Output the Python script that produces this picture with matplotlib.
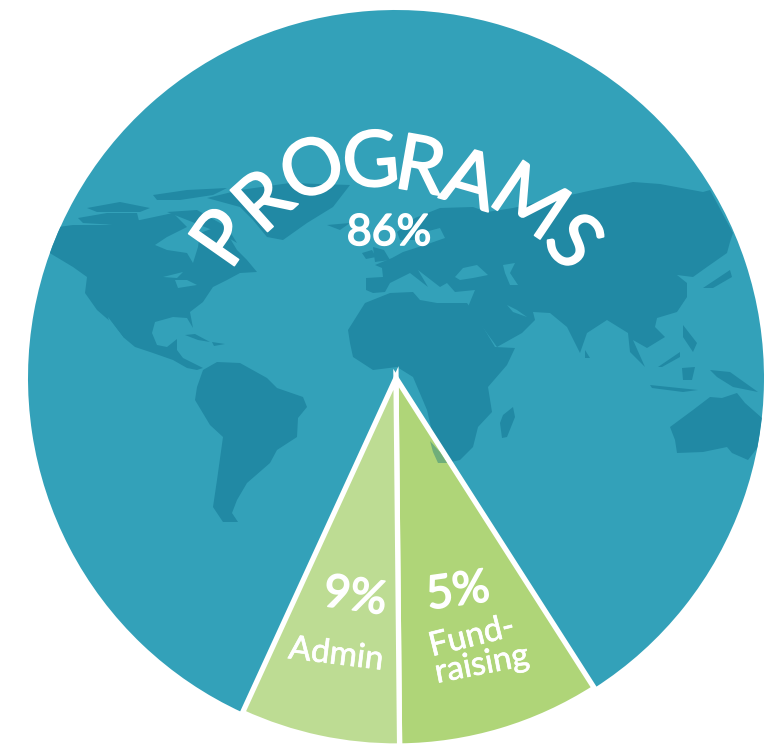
import matplotlib
matplotlib.use("Agg")
import matplotlib.pyplot as plt
import matplotlib.patheffects as pe
from matplotlib.patches import Polygon

plt.rcParams['font.family'] = ['Lato', 'DejaVu Sans']

# shares as drawn (slices are not the size their labels say)
slice_names = ["Fundraising", "Admin", "Programs"]
slice_shares = [8.9, 7.0, 84.1]
slice_colors = ["#afd578", "#bddc93", "#33a1b9"]

title_letters = list("PROGRAMS")
title_x = [226, 266, 314, 371, 420, 469, 528, 571]
title_y = [240, 204, 172, 165, 170, 184, 205, 244]
title_rot = [55, 42, 25, 5, -10, -16, -34, -48]

land_color = "#2189a4"
sea_color = "#33a1b9"

# map outlines, in picture pixels
north_america = [(48,252),(73,267),(87,277),(85,293),(97,310),(112,323),(123,337),(135,347),(153,353),(173,360),(187,368),(197,370),(203,368),(183,358),(177,350),(177,339),(167,347),(157,345),(152,333),(155,322),(173,317),(187,318),(193,328),(190,312),(203,302),(213,287),(227,280),(240,273),(257,272),(247,260),(237,250),(222,225),(200,233),(198,247),(193,263),(187,253),(167,250),(155,245),(167,237),(187,227),(173,213),(140,220),(107,225),(73,225),(58,227)]
greenland = [(207,198),(240,190),(290,183),(350,185),(333,207),(307,223),(283,240),(267,237),(253,220),(240,207)]
iceland = [(327,225),(350,223),(340,230)]
cuba = [(185,335),(195,334),(210,342),(198,340)]
hispaniola = [(212,342),(225,344),(214,346)]
ellesmere = [(153,195),(187,190),(227,188),(213,195),(180,200),(157,200)]
victoria = [(78,218),(107,213),(137,213),(140,225),(117,225),(83,223)]
melville = [(87,208),(120,202),(150,208),(140,212),(97,212)]
baffin = [(167,212),(197,210),(227,227),(237,243),(220,233)]
south_america = [(203,370),(217,362),(240,363),(267,378),(277,388),(303,397),(307,407),(298,418),(297,437),(277,450),(270,463),(247,483),(237,500),(232,513),(238,522),(223,522),(213,507),(217,480),(223,437),(210,425),(195,400),(197,387)]
africa = [(348,330),(365,303),(390,293),(413,292),(420,300),(437,303),(467,303),(477,317),(495,347),(515,348),(507,365),(488,387),(492,412),(478,427),(473,447),(460,460),(447,463),(437,453),(427,410),(413,377),(397,367),(373,370),(353,357),(350,343)]
eurasia = [(366,278),(383,277),(382,268),(375,265),(392,258),(403,252),(425,245),(445,238),(440,228),(425,232),(415,240),(400,240),(397,232),(415,218),(440,208),(473,207),(487,212),(513,208),(557,198),(593,190),(633,182),(660,184),(703,192),(710,190),(733,233),(730,242),(727,253),(707,267),(693,277),(677,275),(687,283),(687,297),(677,312),(657,318),(655,327),(665,337),(647,348),(633,340),(645,367),(630,352),(628,333),(607,320),(587,333),(580,353),(567,327),(550,313),(533,312),(535,320),(522,333),(497,347),(468,307),(475,290),(455,292),(447,283),(440,287),(418,270),(428,287),(410,273),(390,283),(385,292),(373,293),(366,290)]
uk = [(373,247),(384,250),(390,260),(375,262)]
ireland = [(362,253),(372,250),(376,257),(366,259)]
madagascar = [(513,407),(515,417),(507,437),(502,438),(500,423),(503,415)]
sri_lanka = [(585,350),(590,358),(585,358)]
japan = [(703,288),(730,270),(732,277),(713,288)]
philippines = [(683,325),(697,343),(693,352),(683,337)]
sumatra = [(658,367),(680,352),(680,357),(662,367)]
borneo = [(682,368),(695,367),(692,380),(683,380)]
java = [(650,385),(698,390),(683,392),(652,388)]
new_guinea = [(710,370),(730,372),(758,392),(733,387),(717,377)]
australia = [(670,427),(693,410),(710,397),(722,398),(737,393),(745,403),(762,418),(758,447),(748,460),(732,453),(727,447),(703,452),(677,453),(675,440)]
land_shapes = [north_america, greenland, iceland, cuba, hispaniola, ellesmere, victoria, melville, baffin,
               south_america, africa, eurasia, uk, ireland, madagascar, sri_lanka, japan, philippines,
               sumatra, borneo, java, new_guinea, australia]

black_sea = [(455,277),(463,268),(477,265),(488,275),(473,278),(460,280)]
caspian = [(503,265),(515,263),(510,273),(518,285),(510,285),(505,273)]
persian_gulf = [(507,305),(517,310),(527,317),(513,312)]
great_lake_1 = [(163,277),(183,272),(177,278)]
great_lake_2 = [(175,280),(178,288),(197,285),(187,280)]
baja_gulf = [(108,317),(123,337),(121,338),(110,325)]
water_shapes = [black_sea, caspian, persian_gulf, great_lake_1, great_lake_2, baja_gulf]

# bit of Africa that shows through the fundraising slice
africa_over_slice = [(430,441),(440,452),(447,463),(438,463),(433,452)]

fig = plt.figure(figsize=(7.77, 7.45), dpi=100)
ax = fig.add_axes([0, 0, 1, 1])

# y axis is flipped below, so angles run clockwise on screen
wedges, _ = ax.pie(slice_shares, colors=slice_colors, center=(396, 378), radius=368,
                   startangle=57.4, wedgeprops={'edgecolor': 'white', 'linewidth': 3.8})
ax.set_xlim(0, 777)
ax.set_ylim(745, 0)
ax.set_aspect('equal')
ax.axis('off')

wedges[2].set_edgecolor('none')
wedges[2].set_zorder(1)
wedges[0].set_zorder(4)
wedges[1].set_zorder(4)

for shape in land_shapes:
    p = Polygon(shape, closed=True, facecolor=land_color, edgecolor='none', zorder=2)
    ax.add_patch(p)
    p.set_clip_path(wedges[2])
for shape in water_shapes:
    ax.add_patch(Polygon(shape, closed=True, facecolor=sea_color, edgecolor='none', zorder=3))
ax.add_patch(Polygon(africa_over_slice, closed=True, facecolor="#6fae7a", edgecolor='none', zorder=5))

bold = [pe.withStroke(linewidth=1.2, foreground='white')]
thin = [pe.withStroke(linewidth=0.5, foreground='white')]

# PROGRAMS on an arc
for letter, x, y, r in zip(title_letters, title_x, title_y, title_rot):
    ax.text(x, y, letter, fontsize=56, color='white', rotation=r, ha='center', va='center',
            rotation_mode='anchor', zorder=6, path_effects=bold)

ax.text(389, 233, "86%", fontsize=31, color='white', ha='center', va='center', zorder=6, path_effects=bold)
ax.text(355, 597, "9%", fontsize=33, color='white', rotation=-8,
        ha='center', va='center', rotation_mode='anchor', zorder=6, path_effects=bold)
ax.text(458, 592, "5%", fontsize=33, color='white', rotation=8,
        ha='center', va='center', rotation_mode='anchor', zorder=6, path_effects=bold)
ax.text(336, 655, "Admin", fontsize=24, color='white', rotation=-7,
        ha='center', va='center', rotation_mode='anchor', zorder=6, path_effects=thin)
ax.text(472, 637, "Fund-", fontsize=24, color='white', rotation=14,
        ha='center', va='center', rotation_mode='anchor', zorder=6, path_effects=thin)
ax.text(482, 665, "raising", fontsize=24, color='white', rotation=11,
        ha='center', va='center', rotation_mode='anchor', zorder=6, path_effects=thin)

fig.savefig("out.png", dpi=100)
